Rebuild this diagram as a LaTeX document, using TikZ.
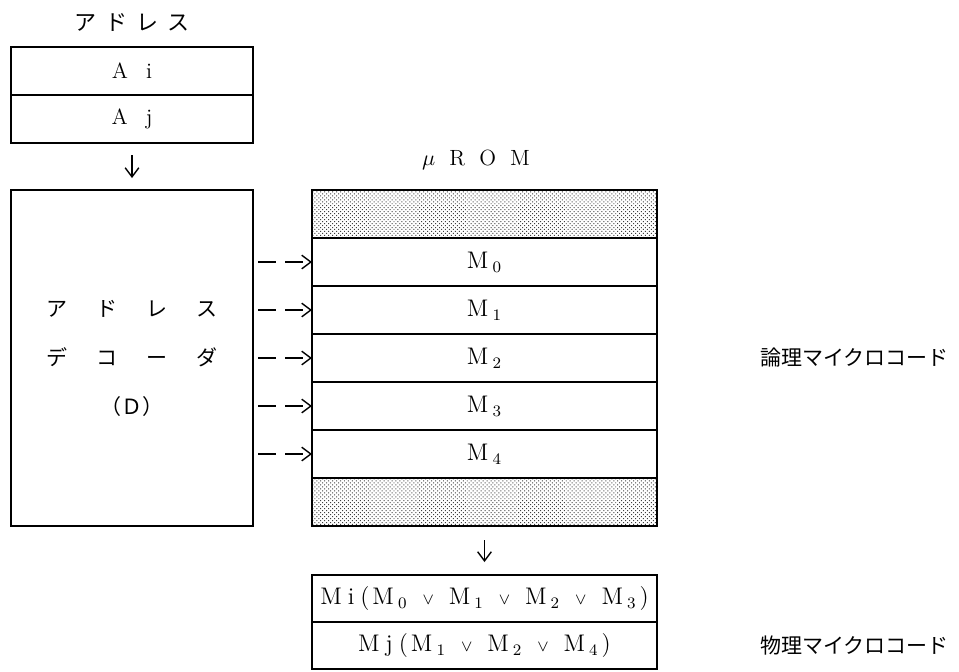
\documentclass[tikz,border=0pt]{standalone}
\usepackage{fontspec}
\usepackage{amsmath}
\usetikzlibrary{arrows.meta,positioning,patterns.meta}
\newfontfamily\jpfont{Noto Sans CJK JP}
\newcommand{\ormark}{\hspace{7.5pt}$\scriptstyle\vee$\hspace{7.5pt}}
\newcommand{\msub}[1]{M\hspace{2pt}$_{#1}$}

\begin{document}
\begin{tikzpicture}[x=0.5pt, y=-0.5pt, font=\fontsize{11}{13}\selectfont, node distance=0pt]
\tikzset{
  rowbox/.style={draw, line width=0.8pt, outer sep=0pt, inner sep=0pt, minimum width=172.5pt, minimum height=24pt, align=center, font=\fontsize{12}{14}\selectfont},
  addrbox/.style={rowbox, minimum width=121pt, font=\fontsize{11}{13}\selectfont},
  hatchbox/.style={rowbox, pattern={Dots[distance=1.4pt, radius=0.35pt, angle=45]}, pattern color=black!75},
  jplabel/.style={font=\jpfont\fontsize{10.5}{13}\selectfont},
  downarrow/.style={-{Straight Barb[length=1.6mm, width=2.4mm]}, line width=0.7pt},
  dasharrow/.style={-{Straight Barb[length=1.6mm, width=2.4mm]}, line width=0.7pt, dash pattern=on 9pt off 4.5pt}
}
\useasboundingbox (0,0) rectangle (959,671);
% address register
\node[jplabel, font=\jpfont\fontsize{11}{13}\selectfont] (addrlabel) at (132,22) {ア\hspace{4.5pt}ド\hspace{4.5pt}レ\hspace{4.5pt}ス};
\node[addrbox] (ai) at (132,71) {A\hspace{9pt}i};
\node[addrbox, below=of ai] (aj) {A\hspace{9pt}j};
% decoder
\node[rowbox, minimum width=121pt, minimum height=168pt] (dec) at (132,358) {};
\node[jplabel, align=center, font=\jpfont\fontsize{10.5}{24.5}\selectfont] (declabel) at (dec.center)
  {ア\hspace{14.5pt}ド\hspace{14.5pt}レ\hspace{14.5pt}ス\\デ\hspace{14.5pt}コ\hspace{14.5pt}ー\hspace{14.5pt}ダ\\（Ｄ）};
% micro ROM
\node (romlabel) at (476,160) {$\mu$\hspace{7pt}R\hspace{7pt}O\hspace{7pt}M};
\node[hatchbox] (toph) at (484.5,214) {};
\node[rowbox, below=of toph] (m0) {\msub{0}};
\node[rowbox, below=of m0] (m1) {\msub{1}};
\node[rowbox, below=of m1] (m2) {\msub{2}};
\node[rowbox, below=of m2] (m3) {\msub{3}};
\node[rowbox, below=of m3] (m4) {\msub{4}};
\node[hatchbox, below=of m4] (both) {};
\node[jplabel, right=48pt of m2] (logical) {論理マイクロコード};
% physical micro code
\node[rowbox, minimum height=23.5pt] (mi) at (484.5,598.5) {M\hspace{3pt}i\hspace{3pt}(\hspace{1.5pt}\msub{0}\ormark\msub{1}\ormark\msub{2}\ormark\msub{3}\hspace{1.5pt})};
\node[rowbox, minimum height=23.5pt, below=of mi] (mj) {M\hspace{3pt}j\hspace{3pt}(\hspace{1.5pt}\msub{1}\ormark\msub{2}\ormark\msub{4}\hspace{1.5pt})};
\node[jplabel, right=48pt of mj] (physical) {物理マイクロコード};
% connectors
\draw[downarrow, shorten <=6pt, shorten >=6pt] (aj.south) -- (dec.north);
\draw[downarrow, shorten <=7pt, shorten >=6.5pt] (both.south) -- (mi.north);
\draw[dasharrow, shorten <=2.5pt] (dec.east |- m0) -- (m0.west);
\draw[dasharrow, shorten <=2.5pt] (dec.east |- m1) -- (m1.west);
\draw[dasharrow, shorten <=2.5pt] (dec.east |- m2) -- (m2.west);
\draw[dasharrow, shorten <=2.5pt] (dec.east |- m3) -- (m3.west);
\draw[dasharrow, shorten <=2.5pt] (dec.east |- m4) -- (m4.west);
\end{tikzpicture}
\end{document}
